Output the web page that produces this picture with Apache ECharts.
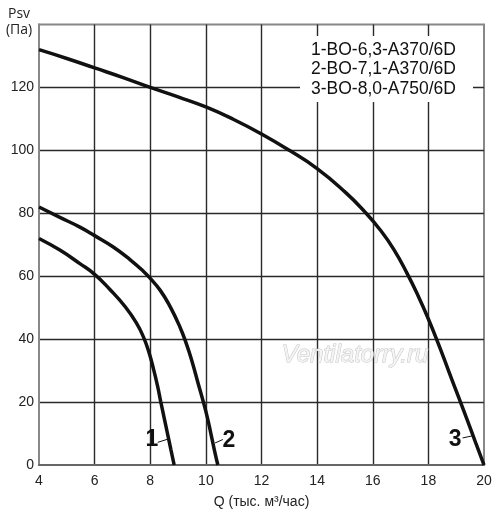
<!DOCTYPE html>
<html><head><meta charset="utf-8">
<script src="https://cdn.jsdelivr.net/npm/echarts@6/dist/echarts.min.js"></script>
<style>html,body{margin:0;padding:0;background:#fff}#c{width:500px;height:514px}</style>
</head><body><div id="c"></div>
<script>
// Curve data: [Q, Psv]
var curve1 = [[4,72],[4.75,68.3],[5.47,64],[6,60.6],[6.55,55.8],[7.1,50.3],[7.5,45.2],[7.75,40.8],[7.95,35.9],[8.12,30.4],[8.26,25.2],[8.38,20],[8.5,15],[8.62,10],[8.74,5],[8.86,0]];
var curve2 = [[4,82],[4.75,78.7],[5.47,75.6],[6,72.9],[6.67,69.3],[7.27,65.3],[7.75,61.6],[8,59.3],[8.36,55.5],[8.71,50.4],[9.07,43.8],[9.3,38.5],[9.5,33],[9.72,26],[9.91,20],[10.05,15.2],[10.18,10],[10.3,5],[10.43,0]];
var curve3 = [[4,132],[5,129.2],[6,126.2],[7,123.2],[8,120],[9,117],[10,113.8],[11,109.8],[12,105.2],[13,100],[14,94.2],[15,86.8],[15.7,80.6],[16.27,74.7],[16.75,68.6],[17.23,61],[17.65,53.4],[18,46.4],[18.36,38.5],[18.72,30.1],[19.08,21.7],[19.44,13.3],[19.72,6.6],[20,0]];
var curveNames = ['1','2','3'];
// label anchors and leader lines (data coords)
var labelPos = [[8.06,8.2],[10.83,7.7],[18.96,8.0]];
var leaders = [[[8.27,7.2],[8.66,8.3]],[[10.33,7.0],[10.61,8.1]],[[19.23,8.6],[19.6,9.3]]];
var legendLines = ['1-BO-6,3-A370/6D','2-BO-7,1-A370/6D','3-BO-8,0-A750/6D'];
var xName = 'Q (тыс. м³/час)';
var yName = ['Psv','(Па)'];
var watermark = 'Ventilatorry.ru';

var chart = echarts.init(document.getElementById('c'), null, {renderer:'canvas'});
var curves = [curve1, curve2, curve3];
var series = curves.map(function(d,i){
  return {
    type:'line', data:d, smooth:0.5, showSymbol:false, symbol:'none',
    lineStyle:{color:'#111', width:3.5}, z:3, silent:true,
    markLine:{silent:true, symbol:'none', label:{show:false},
      lineStyle:{color:'#111', width:1, type:'solid'},
      data:[[{coord:leaders[i][0]},{coord:leaders[i][1]}]]},
    markPoint:{silent:true, symbol:'circle', symbolSize:0,
      label:{show:true, formatter:curveNames[i], color:'#111', fontSize:23, fontWeight:'bold',
        fontFamily:'Liberation Sans, Arial, sans-serif', position:'inside'},
      data:[{coord:labelPos[i]}]}
  };
});
var option = {
  animation:false,
  backgroundColor:'#fff',
  grid:{left:39, right:16, top:24.5, bottom:45, show:true, borderColor:'#888', borderWidth:2, backgroundColor:'transparent'},
  xAxis:{type:'value', min:4, max:20, interval:2,
    name:xName, nameLocation:'middle', nameGap:30,
    nameTextStyle:{color:'#222', fontSize:14, fontFamily:'Liberation Sans, Arial, sans-serif'},
    axisLine:{show:true, lineStyle:{color:'#666', width:2}},
    axisTick:{show:false},
    axisLabel:{color:'#222', fontSize:14, margin:9, fontFamily:'Liberation Sans, Arial, sans-serif'},
    splitLine:{show:true, showMinLine:false, showMaxLine:false, lineStyle:{color:'#2a2a2a', width:1.4}}
  },
  yAxis:{type:'value', min:0, max:140, interval:20,
    axisLine:{show:true, lineStyle:{color:'#888', width:2}},
    axisTick:{show:false},
    axisLabel:{color:'#222', fontSize:14, margin:5, fontFamily:'Liberation Sans, Arial, sans-serif',
      formatter:function(v){return v===140?'':v;}},
    splitLine:{show:true, showMinLine:false, showMaxLine:false, lineStyle:{color:'#2a2a2a', width:1.4}}
  },
  graphic:[
    {type:'rect', shape:{x:300, y:36, width:173, height:66}, style:{fill:'#fff'}, z:2, silent:true},
    {type:'text', left:311, top:40, z:4, silent:true,
      style:{text:legendLines.join('\n'), fill:'#111', fontSize:17.5, lineHeight:19.7,
        fontFamily:'Liberation Sans, Arial, sans-serif'}},
    {type:'text', x:19, y:14, z:4, silent:true,
      style:{text:yName[0], fill:'#222', fontSize:14, align:'center', verticalAlign:'middle', fontFamily:'Open Sans, Liberation Sans, sans-serif'}},
    {type:'text', x:19, y:30, z:4, silent:true,
      style:{text:yName[1], fill:'#222', fontSize:14, align:'center', verticalAlign:'middle', fontFamily:'Open Sans, Liberation Sans, sans-serif'}},
    {type:'text', x:355, y:355, z:5, silent:true,
      style:{text:watermark, fill:'#f4f4f4', stroke:'#c4c4c4', lineWidth:1, fontSize:24, fontStyle:'italic',
        align:'center', verticalAlign:'middle', fontFamily:'Liberation Sans, Arial, sans-serif'}}
  ],
  series:series
};
chart.setOption(option);
</script></body></html>
